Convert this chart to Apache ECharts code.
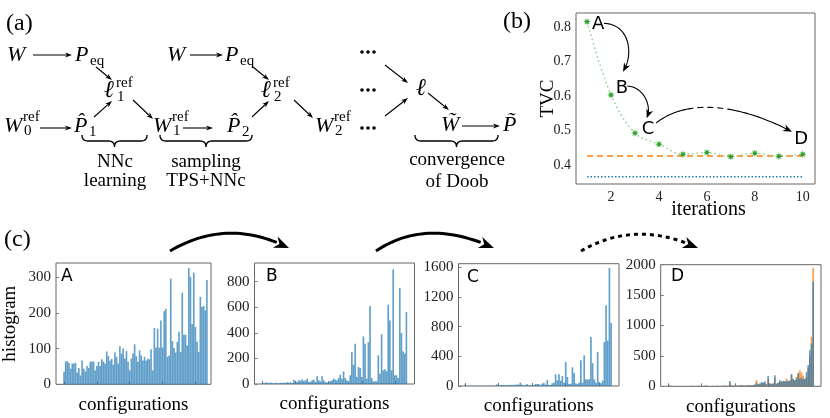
<!DOCTYPE html>
<html><head><meta charset="utf-8">
<script src="https://cdn.jsdelivr.net/npm/echarts@6/dist/echarts.min.js"></script>
<style>html,body{margin:0;padding:0;background:#fff}#c{width:830px;height:418px}</style>
</head><body><div id="c"></div>
<script>
// ---------------- DATA ----------------
const iterations = [1,2,3,4,5,6,7,8,9,10];
const tvc = [0.815,0.603,0.493,0.461,0.432,0.437,0.425,0.435,0.426,0.432];
const tvcRefOrange = 0.427;
const tvcRefBlue = 0.367;
const tvcTicks = [0.4,0.5,0.6,0.7,0.8];
const iterTicks = [2,4,6,8,10];
const stageNames = ['A','B','C','D'];
const stageX = [1.46,2.46,3.54,9.93];
const stageY = [0.808,0.621,0.505,0.476];

const histA = [35,64,65,60,44,58,58,60,33,46,25,67,44,36,51,46,63,64,64,39,51,63,51,70,64,58,92,79,66,71,55,89,77,58,107,86,100,72,93,63,39,72,86,112,79,63,95,81,67,77,67,72,70,98,39,158,103,156,103,179,103,205,212,77,81,296,121,102,89,119,147,91,257,139,139,109,326,301,169,313,161,119,91,245,217,220,207,292];
const histB = [8,5,12,10,6,12,8,3,10,6,5,10,8,12,6,15,10,12,8,
  34,15,18,29,25,36,23,29,42,15,18,29,36,15,60,29,21,60,29,15,12,15,23,29,42,34,29,47,73,42,99,47,29,23,68,250,151,315,55,133,125,55,372,315,42,328,609,47,21,21,21,224,81,388,107,115,99,620,497,107,896,68,68,47,750,398,255,237,562];
const histC = [18,3,2,4,2,3,2,1,3,2,2,3,2,1,2,3,2,4,5,
  22,12,10,15,12,10,14,12,16,10,18,14,20,18,45,18,8,8,27,10,8,10,12,27,27,27,10,31,45,18,81,14,14,36,45,157,76,157,72,135,45,324,121,27,31,252,175,36,27,45,346,45,413,90,85,90,661,310,90,45,458,54,36,72,593,1088,611,1591,849];
const histDBlue = [3,16,2,3,5,2,2,4,3,2,6,3,2,5,8,3,2,4,12,6,
  5,8,10,12,4,3,6,8,3,5,10,4,6,8,12,5,10,88,16,10,8,12,10,16,20,12,10,16,22,14,16,20,30,60,35,44,71,60,82,30,170,44,40,44,181,44,60,99,82,82,82,93,82,99,203,126,99,126,220,126,150,115,126,236,350,593,703,1720];
const histDOrange = [2,12,3,2,4,3,1,5,2,3,4,2,3,6,5,2,3,3,8,4,
  6,5,8,10,6,4,5,6,4,6,8,5,5,10,9,6,8,60,12,12,10,10,12,14,18,14,12,14,20,18,20,18,25,104,30,40,50,55,60,40,120,50,35,50,140,40,55,80,70,90,80,126,90,85,180,110,100,154,200,264,230,180,126,150,300,484,813,1951];
const histTicks = [[0,100,200,300],[0,200,400,600,800],[0,400,800,1200,1600],[0,500,1000,1500,2000]];
const configTicks = [0,20,40,60,80];

// ---------------- LAYOUT / STYLE ----------------
const serif = 'Liberation Serif';
const sans = 'DejaVu Sans';
const BLUE = 'rgba(31,119,180,0.7)';
const ORANGE = 'rgba(255,127,14,0.75)';

const grids = [
  {left:576, top:13, width:239, height:171},
  {left:54, top:263, width:157, height:121.3},
  {left:254.5, top:263, width:160, height:121},
  {left:458.5, top:263.7, width:160.5, height:122.3},
  {left:660.7, top:264.7, width:160.3, height:121.6}
];
const histX = [[-4.9,89.5],[-4.9,91.9],[-3.8,91.7],[-4.5,91.7]];
const histYMax = [340,946,1648,2000];

function starPath(){
  let s='path://';
  for(let k=0;k<16;k++){const r=k%2?4:10;const a=k*Math.PI/8-Math.PI/2;s+=(k?'L':'M')+(r*Math.cos(a)).toFixed(2)+','+(r*Math.sin(a)).toFixed(2);}
  return s+'Z';
}

const chart = echarts.init(document.getElementById('c'));
const tickLabel = {fontFamily:serif, fontSize:14, color:'#222'};
const xAxes = [{
  gridIndex:0, type:'value', min:0.54, max:10.51,
  name:'iterations', nameLocation:'middle', nameGap:16, nameMoveOverlap:false,
  nameTextStyle:{fontFamily:serif, fontSize:20, color:'#000', padding:[0,0,0,26]},
  axisLine:{show:false, onZero:false}, axisTick:{show:false}, splitLine:{show:false},
  axisLabel:Object.assign({customValues:iterTicks, margin:6}, tickLabel)
}];
const yAxes = [{
  gridIndex:0, type:'value', min:0.346, max:0.84,
  name:'TVC', nameLocation:'middle', nameGap:18, nameRotate:90, nameMoveOverlap:false,
  nameTextStyle:{fontFamily:serif, fontSize:19, color:'#000'},
  axisLine:{show:false, onZero:false}, axisTick:{show:false}, splitLine:{show:false},
  axisLabel:Object.assign({customValues:tvcTicks, margin:5, formatter:v=>v.toFixed(1)}, tickLabel)
}];
for(let i=0;i<4;i++){
  xAxes.push({gridIndex:i+1, type:'value', min:histX[i][0], max:histX[i][1],
    name:'configurations', nameLocation:'middle', nameGap:11,
    nameTextStyle:{fontFamily:serif, fontSize:19, color:'#000'},
    axisLine:{show:false, onZero:false}, splitLine:{show:false}, axisLabel:{show:false},
    axisTick:{show:true, inside:true, length:3, customValues:configTicks, lineStyle:{color:'#777'}}});
  yAxes.push({gridIndex:i+1, type:'value', min:0, max:histYMax[i],
    name:i===0?'histogram':'', nameLocation:'middle', nameGap:36, nameRotate:90,
    nameTextStyle:{fontFamily:serif, fontSize:19, color:'#000'},
    axisLine:{show:false, onZero:false}, splitLine:{show:false},
    axisTick:{show:true, inside:true, length:3, customValues:histTicks[i], lineStyle:{color:'#777'}},
    axisLabel:{customValues:histTicks[i], formatter:v=>String(v), fontFamily:serif, fontSize:15, color:'#222', margin:5}});
}

const series = [
  {type:'line', xAxisIndex:0, yAxisIndex:0, data:iterations.map((x,i)=>[x,tvc[i]]),
   smooth:0.35, symbol:starPath(), symbolSize:8, itemStyle:{color:'#2ca02c'},
   lineStyle:{color:'#8fd08f', width:1.5, type:[1.5,3]}, z:5},
  {type:'line', xAxisIndex:0, yAxisIndex:0, data:[[iterations[0],tvcRefOrange],[iterations[iterations.length-1],tvcRefOrange]],
   symbol:'none', lineStyle:{color:'#ff7f0e', width:1.6, type:[6,4]}},
  {type:'line', xAxisIndex:0, yAxisIndex:0, data:[[iterations[0],tvcRefBlue],[iterations[iterations.length-1],tvcRefBlue]],
   symbol:'none', lineStyle:{color:'#1f77b4', width:1.6, type:[1.5,2]}},
  {type:'scatter', xAxisIndex:0, yAxisIndex:0, symbolSize:1, z:6,
   itemStyle:{color:'rgba(0,0,0,0)'},
   data:stageNames.map((n,i)=>({name:n, value:[stageX[i],stageY[i]]})),
   label:{show:true, position:'inside', formatter:p=>p.name, fontFamily:sans, fontSize:18, color:'#000',
     textBorderWidth:0, textBorderColor:'transparent', opacity:1}}
];
const hists = [histA, histB, histC];
hists.forEach((h,i)=>{
  series.push({type:'bar', xAxisIndex:i+1, yAxisIndex:i+1, data:h.map((v,k)=>[k,v]),
    barWidth:'100%', itemStyle:{color:BLUE}});
});
series.push({type:'bar', xAxisIndex:4, yAxisIndex:4, data:histDOrange.map((v,k)=>[k,v]),
  barWidth:'100%', barGap:'-100%', itemStyle:{color:ORANGE}});
series.push({type:'bar', xAxisIndex:4, yAxisIndex:4, data:histDBlue.map((v,k)=>[k,v]),
  barWidth:'100%', barGap:'-100%', itemStyle:{color:BLUE}});

chart.setOption({
  animation:false,
  grid:grids.map(g=>Object.assign({show:true, borderColor:'#666', borderWidth:1, backgroundColor:'transparent'}, g)),
  xAxis:xAxes, yAxis:yAxes, series:series
});

// ---------------- ANNOTATIONS ----------------
const G = [];
function T(x,y,s,size,o){o=o||{};G.push({type:'text', x:x, y:y, z:20, style:{text:s, fontFamily:o.font||serif, fontSize:size,
  fontStyle:o.italic?'italic':'normal', fontWeight:o.bold?'bold':'normal', fill:'#000', align:o.align||'left', verticalAlign:'middle'}});}
function head(tx,ty,dx,dy,len,wid){
  const L=Math.hypot(dx,dy); const ux=dx/L, uy=dy/L, nx=-uy, ny=ux;
  G.push({type:'polygon', z:20, shape:{points:[[tx,ty],[tx-len*ux+wid/2*nx,ty-len*uy+wid/2*ny],[tx-0.7*len*ux,ty-0.7*len*uy],[tx-len*ux-wid/2*nx,ty-len*uy-wid/2*ny]]}, style:{fill:'#000'}});
}
function arrow(x1,y1,x2,y2){
  const L=Math.hypot(x2-x1,y2-y1); const ux=(x2-x1)/L, uy=(y2-y1)/L;
  G.push({type:'line', z:20, shape:{x1:x1,y1:y1,x2:x2-4*ux,y2:y2-4*uy}, style:{stroke:'#000', lineWidth:1.1}});
  head(x2,y2,x2-x1,y2-y1,7,5);
}
function qpts(a,b,c,n){const r=[];for(let k=0;k<=n;k++){const t=k/n,u=1-t;r.push([u*u*a[0]+2*u*t*b[0]+t*t*c[0],u*u*a[1]+2*u*t*b[1]+t*t*c[1]]);}return r;}
function brace(x1,x2,y,h){
  const m=(x1+x2)/2, r=6, yc=y+h/2;
  const pts=[].concat(qpts([x1,y],[x1,yc],[x1+r,yc],8),[[m-r,yc]],qpts([m-r,yc],[m,yc],[m,y+h],8),
    qpts([m,y+h],[m,yc],[m+r,yc],8),[[x2-r,yc]],qpts([x2-r,yc],[x2,yc],[x2,y],8));
  G.push({type:'polyline', z:20, shape:{points:pts}, style:{stroke:'#000', fill:null, lineWidth:1.4}});
}
function dots(x,y){for(let k=0;k<3;k++)G.push({type:'circle', z:20, shape:{cx:x+k*6,cy:y,r:1.8}, style:{fill:'#000'}});}
function bez(p,t){const u=1-t;return [u*u*u*p[0][0]+3*u*u*t*p[1][0]+3*u*t*t*p[2][0]+t*t*t*p[3][0], u*u*u*p[0][1]+3*u*u*t*p[1][1]+3*u*t*t*p[2][1]+t*t*t*p[3][1]];}
function curve(p,t0,t1,lw,dash){const pts=[];for(let k=0;k<=30;k++)pts.push(bez(p,t0+(t1-t0)*k/30));
  const st={stroke:'#000', lineWidth:lw, fill:null}; if(dash) st.lineDash=dash;
  G.push({type:'polyline', z:20, shape:{points:pts}, style:st});}
function quadToCubic(a,b,c){return [a,[a[0]+2/3*(b[0]-a[0]),a[1]+2/3*(b[1]-a[1])],[c[0]+2/3*(b[0]-c[0]),c[1]+2/3*(b[1]-c[1])],c];}

// panel labels
T(6,24,'(a)',24); T(503,22,'(b)',24); T(4,240,'(c)',24);

// panel (a) diagram
const I={italic:true};
T(7,55,'W',22,I); arrow(33,55,72,55); T(75,55,'P',22,I); T(90,61,'eq',15);
arrow(96,67,112,80);
T(167,55,'W',22,I); arrow(190,55,223,55); T(225,55,'P',22,I); T(240,61,'eq',15);
arrow(253,67,269,80);
dots(362,52); arrow(385,65,408,83);
T(104,91,'\u2113',24,I); T(116,83,'ref',15); T(117,97,'1',15);
T(261,91,'\u2113',24,I); T(273,83,'ref',15); T(274,97,'2',15);
dots(362,90);
T(416,89,'\u2113',24,I);
arrow(133,100,153,119); arrow(294,100,313,118); arrow(428,93,449,110);
T(4,126,'W',22,I); T(23,117,'ref',15); T(24,131,'0',15); arrow(40,128,72,128);
T(74,126,'P\u0302',22,I); T(89,132,'1',15); arrow(94,117,112,101);
T(153,126,'W',22,I); T(172,117,'ref',15); T(173,131,'1',15); arrow(183,128,213,128);
T(227,126,'P\u0302',22,I); T(242,132,'2',15); arrow(252,117,269,101);
T(315,126,'W',22,I); T(334,117,'ref',15); T(335,131,'2',15);
dots(362,128); arrow(385,116,408,98);
T(441,125,'W\u0303',22,I); arrow(462,126,500,126); T(503,125,'P\u0303',22,I);
brace(82,147,135,12); brace(160,252,135,12); brace(415,498,135,12);
T(115,162,'NNc',19,{align:'center'}); T(115,181,'learning',19,{align:'center'});
T(206,162,'sampling',19,{align:'center'}); T(206,181,'TPS+NNc',19,{align:'center'});
T(457,160,'convergence',19,{align:'center'}); T(457,182,'of Doob',19,{align:'center'});

// panel (b) curved arrows, anchored in data coordinates
const px = p=>chart.convertToPixel({gridIndex:0}, p);
const arrowAB = [[1.71,0.81],[2.79,0.808],[2.96,0.719],[2.50,0.670]].map(px);
const arrowBC = [[2.68,0.629],[3.42,0.626],[3.71,0.566],[3.49,0.536]].map(px);
const arrowCD = [[3.88,0.522],[5.09,0.589],[7.18,0.583],[9.55,0.497]].map(px);
[arrowAB, arrowBC].forEach(p=>{curve(p,0,0.93,1.1); const a=bez(p,0.9); head(p[3][0],p[3][1],p[3][0]-a[0],p[3][1]-a[1],9,7);});
curve(arrowCD,0,0.3,1.1); curve(arrowCD,0.3,0.62,1.1,[6,4]); curve(arrowCD,0.62,0.97,1.1);
{const p=arrowCD; const a=bez(p,0.93); head(p[3][0],p[3][1],p[3][0]-a[0],p[3][1]-a[1],9,7);}

// panel (c) big arrows
[[[170,251],[227.5,217],[289,248]],[[376,251],[426.5,217],[494,248]],[[581,251],[636,219],[698,248]]].forEach((q,i)=>{
  const p=quadToCubic(q[0],q[1],q[2]);
  curve(p,0,0.9,3, i===2?[4,4]:null);
  const a=bez(p,0.85); head(p[3][0],p[3][1],p[3][0]-a[0],p[3][1]-a[1],15,12);
});

// histogram stage letters
T(61,277,'A',17,{font:sans}); T(266,277,'B',17,{font:sans}); T(467,278,'C',17,{font:sans}); T(671,277,'D',17,{font:sans});

chart.setOption({graphic:G});
</script></body></html>
